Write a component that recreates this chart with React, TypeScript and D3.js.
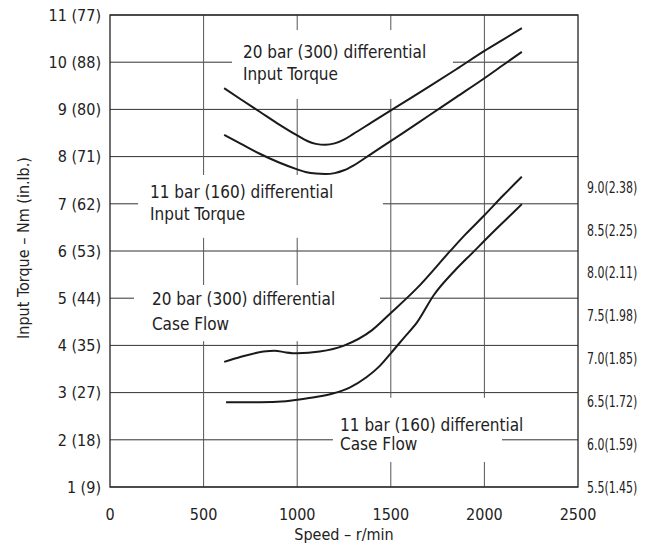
import { useEffect, useRef } from 'react'
import * as d3 from 'd3'

// Speed axis (r/min)
const speedTicks = [0, 500, 1000, 1500, 2000, 2500]

// Left axis: input torque Nm (in.lb.)
const torqueTicks = [1, 2, 3, 4, 5, 6, 7, 8, 9, 10, 11]
const torqueTickLabels = ['1 (9)', '2 (18)', '3 (27)', '4 (35)', '5 (44)', '6 (53)', '7 (62)', '8 (71)', '9 (80)', '10 (88)', '11 (77)']

// Right axis: case flow l/min (US gpm)
const flowTicks = [5.5, 6.0, 6.5, 7.0, 7.5, 8.0, 8.5, 9.0]
const flowTickLabels = ['5.5(1.45)', '6.0(1.59)', '6.5(1.72)', '7.0(1.85)', '7.5(1.98)', '8.0(2.11)', '8.5(2.25)', '9.0(2.38)']

// Input torque curves [speed, Nm]
const torque20bar: [number, number][] = [
  [610, 9.45], [700, 9.21], [800, 8.95], [900, 8.69], [1000, 8.45], [1060, 8.32],
  [1100, 8.27], [1150, 8.25], [1200, 8.28], [1250, 8.36], [1300, 8.48], [1400, 8.73],
  [1550, 9.1], [1700, 9.47], [1850, 9.85], [2000, 10.24], [2100, 10.48], [2200, 10.72]
]
const torque11bar: [number, number][] = [
  [610, 8.46], [700, 8.27], [800, 8.06], [900, 7.88], [1000, 7.73], [1050, 7.67],
  [1100, 7.64], [1150, 7.63], [1200, 7.65], [1250, 7.71], [1300, 7.81], [1400, 8.07],
  [1550, 8.46], [1700, 8.86], [1850, 9.26], [2000, 9.66], [2100, 9.94], [2200, 10.22]
]

// Case flow curves [speed, l/min]
const flow20bar: [number, number][] = [
  [610, 6.96], [700, 7.02], [820, 7.08], [880, 7.09], [940, 7.07], [1000, 7.06],
  [1120, 7.08], [1250, 7.15], [1400, 7.33], [1500, 7.53], [1640, 7.82], [1820, 8.26],
  [1900, 8.45], [2000, 8.67], [2100, 8.9], [2200, 9.12]
]
const flow11bar: [number, number][] = [
  [620, 6.49], [800, 6.49], [940, 6.5], [1010, 6.52], [1100, 6.55], [1190, 6.59],
  [1280, 6.66], [1370, 6.78], [1440, 6.91], [1500, 7.06], [1570, 7.24], [1640, 7.42],
  [1730, 7.74], [1840, 8.02], [1940, 8.24], [2040, 8.46], [2120, 8.63], [2200, 8.8]
]

// Curve labels, placed in speed/torque units; box = white area behind the text
const annotations = [
  { lines: ['20 bar (300) differential', 'Input Torque'], x: 710, y: [10.09, 9.62], box: [652, 1832, 10.68, 9.22] },
  { lines: ['11 bar (160) differential', 'Input Torque'], x: 214, y: [7.12, 6.66], box: [150, 1458, 7.61, 6.28] },
  { lines: ['20 bar (300) differential', 'Case Flow'], x: 224, y: [4.86, 4.33], box: [128, 1442, 5.28, 4.09] },
  { lines: ['11 bar (160) differential', 'Case Flow'], x: 1229, y: [2.19, 1.79], box: [1191, 2094, 2.89, 1.53] }
]

const FONT = '"DejaVu Sans Condensed", "Liberation Sans Narrow", sans-serif'

const App = () => {
  const svgRef = useRef<SVGSVGElement>(null)

  useEffect(() => {
    if (!svgRef.current) return
    const width = 647
    const height = 548
    const margin = { top: 15, right: 69, bottom: 61, left: 110 }

    const svg = d3.select(svgRef.current)
    svg.selectAll('*').remove()
    svg.attr('width', width).attr('height', height)

    const x = d3.scaleLinear().domain([0, 2500]).range([margin.left, width - margin.right])
    const y = d3.scaleLinear().domain([1, 11]).range([height - margin.bottom, margin.top])
    const yFlow = d3.scaleLinear().domain([5.5, 9.0]).range([height - margin.bottom, 187])

    // Grid
    const grid = svg.append('g').attr('stroke', '#333').attr('stroke-width', 1)
    grid.selectAll('line.h')
      .data(torqueTicks)
      .enter()
      .append('line')
      .attr('x1', x(0))
      .attr('x2', x(2500))
      .attr('y1', d => y(d))
      .attr('y2', d => y(d))
    grid.selectAll('line.v')
      .data(speedTicks.slice(1, -1))
      .enter()
      .append('line')
      .attr('stroke', '#555')
      .attr('x1', d => x(d))
      .attr('x2', d => x(d))
      .attr('y1', y(11))
      .attr('y2', y(1))

    // White areas behind labels
    svg.append('g')
      .selectAll('rect')
      .data(annotations)
      .enter()
      .append('rect')
      .attr('x', d => x(d.box[0]))
      .attr('y', d => y(d.box[2]))
      .attr('width', d => x(d.box[1]) - x(d.box[0]))
      .attr('height', d => y(d.box[3]) - y(d.box[2]))
      .attr('fill', '#fff')

    // Frame
    svg.append('rect')
      .attr('x', x(0))
      .attr('y', y(11))
      .attr('width', x(2500) - x(0))
      .attr('height', y(1) - y(11))
      .attr('fill', 'none')
      .attr('stroke', '#222')
      .attr('stroke-width', 1.3)

    // Curves
    const torqueLine = d3.line<[number, number]>()
      .x(d => x(d[0]))
      .y(d => y(d[1]))
      .curve(d3.curveMonotoneX)
    const flowLine = d3.line<[number, number]>()
      .x(d => x(d[0]))
      .y(d => yFlow(d[1]))
      .curve(d3.curveMonotoneX)

    const curves = svg.append('g')
      .attr('fill', 'none')
      .attr('stroke', '#1a1a1a')
      .attr('stroke-width', 2)
    curves.append('path').attr('d', torqueLine(torque20bar))
    curves.append('path').attr('d', torqueLine(torque11bar))
    curves.append('path').attr('d', flowLine(flow20bar))
    curves.append('path').attr('d', flowLine(flow11bar))

    // Labels
    const labels = svg.append('g')
      .attr('font-family', FONT)
      .attr('font-size', 17)
      .attr('fill', '#222')
    annotations.forEach(a => {
      a.lines.forEach((line, i) => {
        labels.append('text')
          .attr('x', x(a.x))
          .attr('y', y(a.y[i]))
          .text(line)
      })
    })

    // Left axis labels
    svg.append('g')
      .selectAll('text')
      .data(torqueTicks)
      .enter()
      .append('text')
      .attr('x', x(0) - 9)
      .attr('y', d => y(d))
      .attr('dy', '0.36em')
      .attr('text-anchor', 'end')
      .attr('font-family', FONT)
      .attr('font-size', 16)
      .attr('fill', '#222')
      .text((_d, i) => torqueTickLabels[i])

    // Right axis labels (tightly set, squeezed horizontally)
    svg.append('g')
      .selectAll('text')
      .data(flowTicks)
      .enter()
      .append('text')
      .attr('transform', d => `translate(${x(2500) + 9},${yFlow(d)}) scale(0.76,1)`)
      .attr('dy', '0.36em')
      .attr('font-family', FONT)
      .attr('font-size', 16)
      .attr('fill', '#222')
      .text((_d, i) => flowTickLabels[i])

    // Bottom axis labels
    svg.append('g')
      .selectAll('text')
      .data(speedTicks)
      .enter()
      .append('text')
      .attr('x', d => x(d))
      .attr('y', y(1) + 33)
      .attr('text-anchor', 'middle')
      .attr('font-family', FONT)
      .attr('font-size', 16)
      .attr('fill', '#222')
      .text(d => d)

    // Axis titles
    svg.append('text')
      .attr('x', (x(0) + x(2500)) / 2)
      .attr('y', 540)
      .attr('text-anchor', 'middle')
      .attr('font-family', FONT)
      .attr('font-size', 16)
      .attr('fill', '#222')
      .text('Speed – r/min')

    svg.append('text')
      .attr('transform', `translate(29, 248) rotate(-90)`)
      .attr('text-anchor', 'middle')
      .attr('font-family', FONT)
      .attr('font-size', 16)
      .attr('fill', '#222')
      .text('Input Torque – Nm (in.lb.)')
  }, [])

  return (
    <svg ref={svgRef} style={{ position: 'absolute', left: 0, top: 0, background: '#fff' }}></svg>
  )
}

export default App
